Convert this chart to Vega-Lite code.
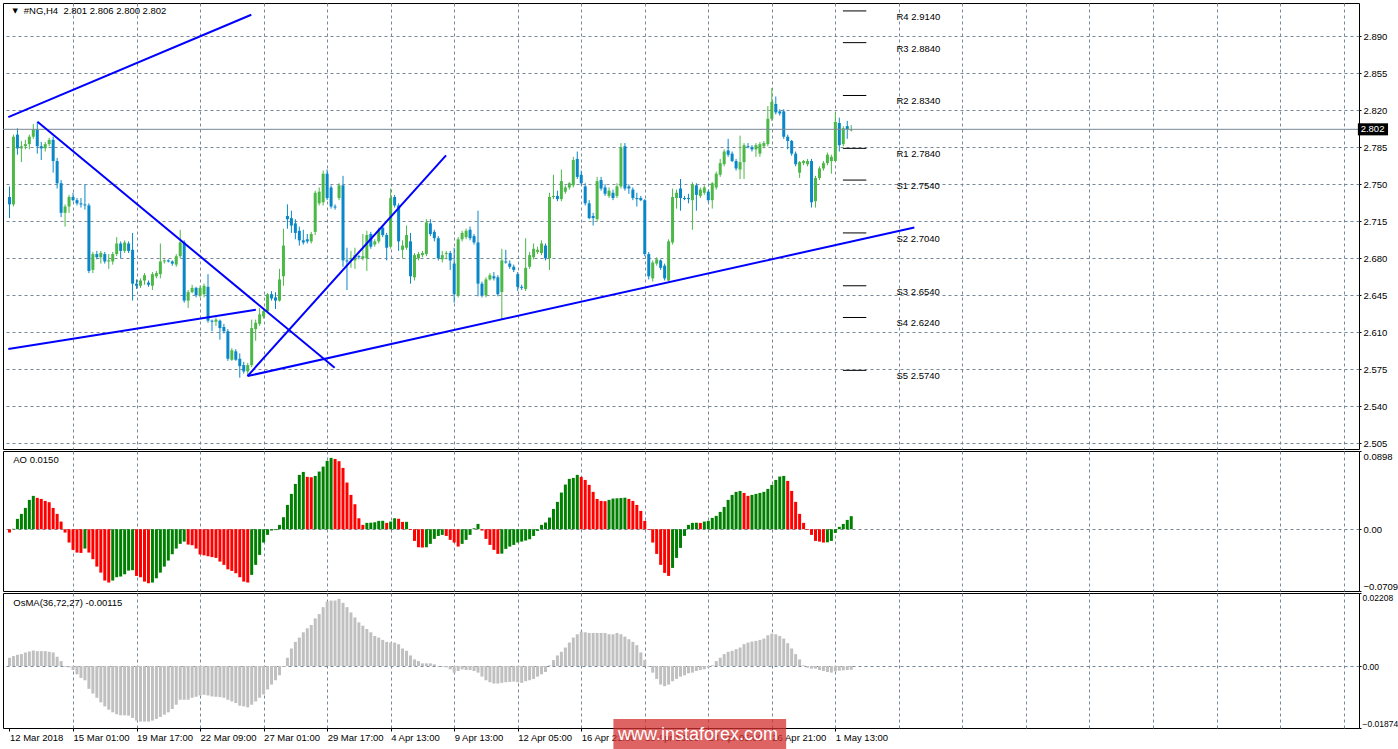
{
"$schema":"https://vega.github.io/schema/vega-lite/v6.json",
"background":"#ffffff",
"padding":{"left":2,"top":2,"right":0,"bottom":0},
"spacing":2,
"bounds":"flush",
"config":{"view":{"stroke":"#000000","strokeWidth":1},"font":"Liberation Sans","axis":{"labelFont":"Liberation Sans","labelFontSize":9.5,"labelColor":"#000000","gridColor":"#778899","gridDash":[3,3],"gridWidth":1,"domain":false}},
"datasets":{"bars":[
{"k":0,"o":2.738,"h":2.748,"l":2.718,"c":2.731,"ao":-0.0038,"os":0.0025},
{"k":1,"o":2.731,"h":2.797,"l":2.729,"c":2.795,"ao":0.0005,"os":0.0030},
{"k":2,"o":2.797,"h":2.803,"l":2.778,"c":2.784,"ao":0.0119,"os":0.0034},
{"k":3,"o":2.784,"h":2.791,"l":2.771,"c":2.786,"ao":0.0176,"os":0.0036},
{"k":4,"o":2.786,"h":2.792,"l":2.783,"c":2.788,"ao":0.0245,"os":0.0041},
{"k":5,"o":2.788,"h":2.797,"l":2.783,"c":2.795,"ao":0.0337,"os":0.0044},
{"k":6,"o":2.795,"h":2.807,"l":2.793,"c":2.802,"ao":0.0383,"os":0.0047},
{"k":7,"o":2.802,"h":2.809,"l":2.779,"c":2.786,"ao":0.0360,"os":0.0045},
{"k":8,"o":2.786,"h":2.790,"l":2.773,"c":2.784,"ao":0.0348,"os":0.0045},
{"k":9,"o":2.784,"h":2.790,"l":2.781,"c":2.788,"ao":0.0325,"os":0.0045},
{"k":10,"o":2.788,"h":2.794,"l":2.786,"c":2.792,"ao":0.0310,"os":0.0043},
{"k":11,"o":2.792,"h":2.795,"l":2.761,"c":2.772,"ao":0.0245,"os":0.0041},
{"k":12,"o":2.772,"h":2.775,"l":2.746,"c":2.751,"ao":0.0176,"os":0.0028},
{"k":13,"o":2.751,"h":2.754,"l":2.719,"c":2.723,"ao":0.0088,"os":0.0015},
{"k":14,"o":2.723,"h":2.731,"l":2.710,"c":2.729,"ao":-0.0038,"os":-0.0002},
{"k":15,"o":2.729,"h":2.740,"l":2.723,"c":2.738,"ao":-0.0153,"os":-0.0004},
{"k":16,"o":2.738,"h":2.742,"l":2.734,"c":2.735,"ao":-0.0237,"os":-0.0012},
{"k":17,"o":2.735,"h":2.737,"l":2.730,"c":2.732,"ao":-0.0268,"os":-0.0025},
{"k":18,"o":2.732,"h":2.737,"l":2.728,"c":2.731,"ao":-0.0272,"os":-0.0036},
{"k":19,"o":2.731,"h":2.750,"l":2.726,"c":2.730,"ao":-0.0222,"os":-0.0043},
{"k":20,"o":2.730,"h":2.732,"l":2.666,"c":2.668,"ao":-0.0268,"os":-0.0069},
{"k":21,"o":2.669,"h":2.686,"l":2.666,"c":2.684,"ao":-0.0344,"os":-0.0083},
{"k":22,"o":2.684,"h":2.687,"l":2.679,"c":2.681,"ao":-0.0429,"os":-0.0096},
{"k":23,"o":2.681,"h":2.687,"l":2.675,"c":2.685,"ao":-0.0498,"os":-0.0110},
{"k":24,"o":2.684,"h":2.686,"l":2.675,"c":2.677,"ao":-0.0589,"os":-0.0122},
{"k":25,"o":2.677,"h":2.684,"l":2.670,"c":2.678,"ao":-0.0612,"os":-0.0132},
{"k":26,"o":2.677,"h":2.686,"l":2.674,"c":2.684,"ao":-0.0589,"os":-0.0140},
{"k":27,"o":2.684,"h":2.700,"l":2.682,"c":2.694,"ao":-0.0551,"os":-0.0146},
{"k":28,"o":2.694,"h":2.696,"l":2.680,"c":2.687,"ao":-0.0543,"os":-0.0149},
{"k":29,"o":2.687,"h":2.697,"l":2.685,"c":2.695,"ao":-0.0517,"os":-0.0149},
{"k":30,"o":2.694,"h":2.696,"l":2.685,"c":2.687,"ao":-0.0475,"os":-0.0150},
{"k":31,"o":2.688,"h":2.704,"l":2.640,"c":2.656,"ao":-0.0470,"os":-0.0157},
{"k":32,"o":2.656,"h":2.660,"l":2.651,"c":2.654,"ao":-0.0536,"os":-0.0165},
{"k":33,"o":2.654,"h":2.661,"l":2.652,"c":2.659,"ao":-0.0551,"os":-0.0168},
{"k":34,"o":2.659,"h":2.666,"l":2.655,"c":2.664,"ao":-0.0601,"os":-0.0168},
{"k":35,"o":2.657,"h":2.659,"l":2.653,"c":2.655,"ao":-0.0620,"os":-0.0168},
{"k":36,"o":2.654,"h":2.667,"l":2.650,"c":2.665,"ao":-0.0612,"os":-0.0165},
{"k":37,"o":2.663,"h":2.668,"l":2.661,"c":2.666,"ao":-0.0563,"os":-0.0160},
{"k":38,"o":2.665,"h":2.694,"l":2.661,"c":2.677,"ao":-0.0498,"os":-0.0154},
{"k":39,"o":2.677,"h":2.679,"l":2.675,"c":2.678,"ao":-0.0429,"os":-0.0147},
{"k":40,"o":2.678,"h":2.679,"l":2.676,"c":2.677,"ao":-0.0360,"os":-0.0140},
{"k":41,"o":2.677,"h":2.678,"l":2.673,"c":2.675,"ao":-0.0287,"os":-0.0130},
{"k":42,"o":2.674,"h":2.684,"l":2.672,"c":2.682,"ao":-0.0222,"os":-0.0117},
{"k":43,"o":2.682,"h":2.707,"l":2.680,"c":2.695,"ao":-0.0168,"os":-0.0102},
{"k":44,"o":2.695,"h":2.697,"l":2.638,"c":2.640,"ao":-0.0142,"os":-0.0102},
{"k":45,"o":2.640,"h":2.650,"l":2.633,"c":2.648,"ao":-0.0176,"os":-0.0102},
{"k":46,"o":2.648,"h":2.655,"l":2.647,"c":2.652,"ao":-0.0184,"os":-0.0096},
{"k":47,"o":2.652,"h":2.653,"l":2.643,"c":2.645,"ao":-0.0222,"os":-0.0093},
{"k":48,"o":2.645,"h":2.654,"l":2.643,"c":2.652,"ao":-0.0290,"os":-0.0089},
{"k":49,"o":2.646,"h":2.656,"l":2.643,"c":2.654,"ao":-0.0300,"os":-0.0087},
{"k":50,"o":2.653,"h":2.665,"l":2.619,"c":2.621,"ao":-0.0310,"os":-0.0089},
{"k":51,"o":2.621,"h":2.622,"l":2.611,"c":2.620,"ao":-0.0320,"os":-0.0092},
{"k":52,"o":2.620,"h":2.624,"l":2.616,"c":2.622,"ao":-0.0329,"os":-0.0093},
{"k":53,"o":2.621,"h":2.622,"l":2.603,"c":2.614,"ao":-0.0371,"os":-0.0094},
{"k":54,"o":2.615,"h":2.618,"l":2.609,"c":2.611,"ao":-0.0409,"os":-0.0096},
{"k":55,"o":2.611,"h":2.613,"l":2.583,"c":2.585,"ao":-0.0460,"os":-0.0102},
{"k":56,"o":2.584,"h":2.595,"l":2.583,"c":2.593,"ao":-0.0478,"os":-0.0107},
{"k":57,"o":2.592,"h":2.594,"l":2.583,"c":2.584,"ao":-0.0505,"os":-0.0112},
{"k":58,"o":2.585,"h":2.590,"l":2.567,"c":2.578,"ao":-0.0551,"os":-0.0120},
{"k":59,"o":2.579,"h":2.582,"l":2.571,"c":2.573,"ao":-0.0601,"os":-0.0122},
{"k":60,"o":2.573,"h":2.581,"l":2.569,"c":2.579,"ao":-0.0612,"os":-0.0125},
{"k":61,"o":2.579,"h":2.622,"l":2.577,"c":2.614,"ao":-0.0524,"os":-0.0117},
{"k":62,"o":2.613,"h":2.622,"l":2.602,"c":2.619,"ao":-0.0409,"os":-0.0107},
{"k":63,"o":2.618,"h":2.633,"l":2.616,"c":2.627,"ao":-0.0295,"os":-0.0096},
{"k":64,"o":2.625,"h":2.632,"l":2.623,"c":2.630,"ao":-0.0153,"os":-0.0086},
{"k":65,"o":2.630,"h":2.647,"l":2.628,"c":2.646,"ao":-0.0065,"os":-0.0071},
{"k":66,"o":2.646,"h":2.649,"l":2.640,"c":2.642,"ao":-0.0015,"os":-0.0056},
{"k":67,"o":2.643,"h":2.648,"l":2.632,"c":2.640,"ao":-0.0010,"os":-0.0043},
{"k":68,"o":2.640,"h":2.670,"l":2.639,"c":2.660,"ao":0.0050,"os":-0.0028},
{"k":69,"o":2.663,"h":2.708,"l":2.654,"c":2.692,"ao":0.0138,"os":-0.0002},
{"k":70,"o":2.720,"h":2.731,"l":2.708,"c":2.717,"ao":0.0279,"os":0.0025},
{"k":71,"o":2.718,"h":2.725,"l":2.704,"c":2.711,"ao":0.0406,"os":0.0053},
{"k":72,"o":2.713,"h":2.717,"l":2.698,"c":2.704,"ao":0.0520,"os":0.0073},
{"k":73,"o":2.706,"h":2.710,"l":2.692,"c":2.697,"ao":0.0624,"os":0.0086},
{"k":74,"o":2.697,"h":2.707,"l":2.693,"c":2.695,"ao":0.0658,"os":0.0102},
{"k":75,"o":2.698,"h":2.703,"l":2.694,"c":2.696,"ao":0.0601,"os":0.0114},
{"k":76,"o":2.696,"h":2.705,"l":2.694,"c":2.703,"ao":0.0597,"os":0.0124},
{"k":77,"o":2.705,"h":2.744,"l":2.702,"c":2.742,"ao":0.0612,"os":0.0144},
{"k":78,"o":2.732,"h":2.747,"l":2.730,"c":2.743,"ao":0.0662,"os":0.0157},
{"k":79,"o":2.733,"h":2.763,"l":2.730,"c":2.760,"ao":0.0719,"os":0.0178},
{"k":80,"o":2.760,"h":2.764,"l":2.735,"c":2.737,"ao":0.0785,"os":0.0195},
{"k":81,"o":2.747,"h":2.749,"l":2.727,"c":2.729,"ao":0.0819,"os":0.0198},
{"k":82,"o":2.729,"h":2.731,"l":2.726,"c":2.728,"ao":0.0807,"os":0.0198},
{"k":83,"o":2.737,"h":2.751,"l":2.735,"c":2.749,"ao":0.0781,"os":0.0203},
{"k":84,"o":2.749,"h":2.758,"l":2.672,"c":2.678,"ao":0.0704,"os":0.0191},
{"k":85,"o":2.678,"h":2.690,"l":2.650,"c":2.677,"ao":0.0536,"os":0.0178},
{"k":86,"o":2.679,"h":2.687,"l":2.671,"c":2.680,"ao":0.0394,"os":0.0162},
{"k":87,"o":2.678,"h":2.690,"l":2.670,"c":2.683,"ao":0.0287,"os":0.0147},
{"k":88,"o":2.682,"h":2.683,"l":2.679,"c":2.681,"ao":0.0126,"os":0.0132},
{"k":89,"o":2.680,"h":2.703,"l":2.678,"c":2.682,"ao":0.0050,"os":0.0122},
{"k":90,"o":2.680,"h":2.706,"l":2.668,"c":2.702,"ao":0.0073,"os":0.0112},
{"k":91,"o":2.703,"h":2.705,"l":2.689,"c":2.691,"ao":0.0075,"os":0.0102},
{"k":92,"o":2.693,"h":2.698,"l":2.691,"c":2.696,"ao":0.0080,"os":0.0091},
{"k":93,"o":2.696,"h":2.709,"l":2.694,"c":2.707,"ao":0.0096,"os":0.0086},
{"k":94,"o":2.709,"h":2.711,"l":2.700,"c":2.702,"ao":0.0097,"os":0.0079},
{"k":95,"o":2.702,"h":2.704,"l":2.678,"c":2.690,"ao":0.0073,"os":0.0073},
{"k":96,"o":2.691,"h":2.746,"l":2.689,"c":2.737,"ao":0.0088,"os":0.0071},
{"k":97,"o":2.738,"h":2.740,"l":2.728,"c":2.730,"ao":0.0126,"os":0.0071},
{"k":98,"o":2.730,"h":2.732,"l":2.687,"c":2.696,"ao":0.0120,"os":0.0066},
{"k":99,"o":2.688,"h":2.697,"l":2.680,"c":2.692,"ao":0.0084,"os":0.0053},
{"k":100,"o":2.690,"h":2.711,"l":2.688,"c":2.702,"ao":0.0085,"os":0.0046},
{"k":101,"o":2.696,"h":2.704,"l":2.656,"c":2.663,"ao":-0.0008,"os":0.0032},
{"k":102,"o":2.662,"h":2.685,"l":2.659,"c":2.683,"ao":-0.0134,"os":0.0020},
{"k":103,"o":2.680,"h":2.686,"l":2.678,"c":2.684,"ao":-0.0207,"os":0.0015},
{"k":104,"o":2.683,"h":2.687,"l":2.681,"c":2.685,"ao":-0.0210,"os":0.0008},
{"k":105,"o":2.684,"h":2.717,"l":2.682,"c":2.714,"ao":-0.0207,"os":0.0008},
{"k":106,"o":2.713,"h":2.717,"l":2.701,"c":2.703,"ao":-0.0168,"os":0.0008},
{"k":107,"o":2.705,"h":2.707,"l":2.696,"c":2.699,"ao":-0.0111,"os":0.0005},
{"k":108,"o":2.699,"h":2.701,"l":2.678,"c":2.680,"ao":-0.0077,"os":-0.0001},
{"k":109,"o":2.679,"h":2.687,"l":2.676,"c":2.683,"ao":-0.0065,"os":-0.0002},
{"k":110,"o":2.684,"h":2.687,"l":2.679,"c":2.685,"ao":-0.0077,"os":-0.0004},
{"k":111,"o":2.685,"h":2.687,"l":2.669,"c":2.678,"ao":-0.0122,"os":-0.0010},
{"k":112,"o":2.675,"h":2.690,"l":2.638,"c":2.646,"ao":-0.0153,"os":-0.0020},
{"k":113,"o":2.645,"h":2.700,"l":2.643,"c":2.698,"ao":-0.0199,"os":-0.0015},
{"k":114,"o":2.698,"h":2.706,"l":2.696,"c":2.704,"ao":-0.0168,"os":-0.0010},
{"k":115,"o":2.700,"h":2.708,"l":2.698,"c":2.706,"ao":-0.0122,"os":-0.0012},
{"k":116,"o":2.707,"h":2.710,"l":2.697,"c":2.699,"ao":-0.0065,"os":-0.0012},
{"k":117,"o":2.701,"h":2.703,"l":2.693,"c":2.695,"ao":0.0011,"os":-0.0015},
{"k":118,"o":2.695,"h":2.725,"l":2.644,"c":2.656,"ao":0.0061,"os":-0.0020},
{"k":119,"o":2.656,"h":2.658,"l":2.643,"c":2.645,"ao":-0.0015,"os":-0.0032},
{"k":120,"o":2.645,"h":2.662,"l":2.643,"c":2.660,"ao":-0.0111,"os":-0.0043},
{"k":121,"o":2.660,"h":2.666,"l":2.659,"c":2.664,"ao":-0.0180,"os":-0.0049},
{"k":122,"o":2.663,"h":2.667,"l":2.659,"c":2.661,"ao":-0.0237,"os":-0.0053},
{"k":123,"o":2.662,"h":2.664,"l":2.644,"c":2.646,"ao":-0.0283,"os":-0.0053},
{"k":124,"o":2.648,"h":2.689,"l":2.622,"c":2.678,"ao":-0.0280,"os":-0.0051},
{"k":125,"o":2.677,"h":2.688,"l":2.675,"c":2.676,"ao":-0.0226,"os":-0.0049},
{"k":126,"o":2.675,"h":2.678,"l":2.670,"c":2.672,"ao":-0.0199,"os":-0.0048},
{"k":127,"o":2.672,"h":2.674,"l":2.667,"c":2.669,"ao":-0.0180,"os":-0.0047},
{"k":128,"o":2.665,"h":2.667,"l":2.649,"c":2.653,"ao":-0.0153,"os":-0.0049},
{"k":129,"o":2.653,"h":2.655,"l":2.650,"c":2.652,"ao":-0.0142,"os":-0.0051},
{"k":130,"o":2.651,"h":2.699,"l":2.649,"c":2.671,"ao":-0.0130,"os":-0.0046},
{"k":131,"o":2.672,"h":2.686,"l":2.670,"c":2.683,"ao":-0.0115,"os":-0.0043},
{"k":132,"o":2.681,"h":2.694,"l":2.679,"c":2.689,"ao":-0.0077,"os":-0.0039},
{"k":133,"o":2.686,"h":2.691,"l":2.684,"c":2.688,"ao":-0.0019,"os":-0.0032},
{"k":134,"o":2.685,"h":2.697,"l":2.683,"c":2.694,"ao":0.0050,"os":-0.0025},
{"k":135,"o":2.692,"h":2.694,"l":2.678,"c":2.680,"ao":0.0077,"os":-0.0018},
{"k":136,"o":2.680,"h":2.742,"l":2.669,"c":2.738,"ao":0.0134,"os":0.0002},
{"k":137,"o":2.738,"h":2.759,"l":2.736,"c":2.739,"ao":0.0233,"os":0.0018},
{"k":138,"o":2.739,"h":2.744,"l":2.734,"c":2.736,"ao":0.0314,"os":0.0032},
{"k":139,"o":2.736,"h":2.764,"l":2.734,"c":2.753,"ao":0.0421,"os":0.0043},
{"k":140,"o":2.743,"h":2.749,"l":2.741,"c":2.747,"ao":0.0513,"os":0.0056},
{"k":141,"o":2.747,"h":2.752,"l":2.745,"c":2.751,"ao":0.0578,"os":0.0071},
{"k":142,"o":2.749,"h":2.776,"l":2.747,"c":2.773,"ao":0.0589,"os":0.0086},
{"k":143,"o":2.774,"h":2.781,"l":2.755,"c":2.757,"ao":0.0624,"os":0.0096},
{"k":144,"o":2.759,"h":2.763,"l":2.749,"c":2.751,"ao":0.0601,"os":0.0104},
{"k":145,"o":2.748,"h":2.751,"l":2.730,"c":2.732,"ao":0.0566,"os":0.0102},
{"k":146,"o":2.732,"h":2.735,"l":2.717,"c":2.718,"ao":0.0509,"os":0.0100},
{"k":147,"o":2.720,"h":2.723,"l":2.711,"c":2.718,"ao":0.0429,"os":0.0100},
{"k":148,"o":2.717,"h":2.757,"l":2.715,"c":2.753,"ao":0.0348,"os":0.0100},
{"k":149,"o":2.754,"h":2.757,"l":2.744,"c":2.746,"ao":0.0325,"os":0.0100},
{"k":150,"o":2.747,"h":2.750,"l":2.739,"c":2.741,"ao":0.0322,"os":0.0100},
{"k":151,"o":2.739,"h":2.747,"l":2.737,"c":2.744,"ao":0.0337,"os":0.0096},
{"k":152,"o":2.742,"h":2.745,"l":2.735,"c":2.737,"ao":0.0352,"os":0.0096},
{"k":153,"o":2.739,"h":2.751,"l":2.737,"c":2.748,"ao":0.0355,"os":0.0100},
{"k":154,"o":2.748,"h":2.789,"l":2.746,"c":2.785,"ao":0.0358,"os":0.0096},
{"k":155,"o":2.786,"h":2.789,"l":2.744,"c":2.746,"ao":0.0362,"os":0.0089},
{"k":156,"o":2.748,"h":2.750,"l":2.741,"c":2.746,"ao":0.0348,"os":0.0081},
{"k":157,"o":2.745,"h":2.747,"l":2.735,"c":2.737,"ao":0.0325,"os":0.0073},
{"k":158,"o":2.737,"h":2.742,"l":2.729,"c":2.736,"ao":0.0279,"os":0.0063},
{"k":159,"o":2.737,"h":2.739,"l":2.734,"c":2.735,"ao":0.0210,"os":0.0041},
{"k":160,"o":2.735,"h":2.736,"l":2.682,"c":2.684,"ao":0.0096,"os":0.0018},
{"k":161,"o":2.684,"h":2.686,"l":2.660,"c":2.663,"ao":-0.0008,"os":-0.0002},
{"k":162,"o":2.661,"h":2.678,"l":2.658,"c":2.676,"ao":-0.0153,"os":-0.0020},
{"k":163,"o":2.675,"h":2.681,"l":2.673,"c":2.679,"ao":-0.0283,"os":-0.0039},
{"k":164,"o":2.678,"h":2.679,"l":2.669,"c":2.671,"ao":-0.0409,"os":-0.0056},
{"k":165,"o":2.673,"h":2.675,"l":2.659,"c":2.661,"ao":-0.0501,"os":-0.0061},
{"k":166,"o":2.659,"h":2.698,"l":2.658,"c":2.696,"ao":-0.0536,"os":-0.0056},
{"k":167,"o":2.695,"h":2.746,"l":2.693,"c":2.738,"ao":-0.0444,"os":-0.0046},
{"k":168,"o":2.737,"h":2.745,"l":2.727,"c":2.742,"ao":-0.0329,"os":-0.0039},
{"k":169,"o":2.746,"h":2.755,"l":2.725,"c":2.737,"ao":-0.0214,"os":-0.0032},
{"k":170,"o":2.737,"h":2.739,"l":2.735,"c":2.736,"ao":-0.0077,"os":-0.0028},
{"k":171,"o":2.737,"h":2.741,"l":2.732,"c":2.736,"ao":0.0050,"os":-0.0022},
{"k":172,"o":2.735,"h":2.752,"l":2.707,"c":2.750,"ao":0.0073,"os":-0.0020},
{"k":173,"o":2.749,"h":2.751,"l":2.725,"c":2.740,"ao":0.0075,"os":-0.0015},
{"k":174,"o":2.739,"h":2.747,"l":2.737,"c":2.745,"ao":0.0072,"os":-0.0012},
{"k":175,"o":2.742,"h":2.749,"l":2.740,"c":2.747,"ao":0.0088,"os":-0.0010},
{"k":176,"o":2.743,"h":2.745,"l":2.733,"c":2.735,"ao":0.0096,"os":-0.0005},
{"k":177,"o":2.735,"h":2.752,"l":2.727,"c":2.751,"ao":0.0130,"os":0.0002},
{"k":178,"o":2.747,"h":2.762,"l":2.745,"c":2.760,"ao":0.0153,"os":0.0015},
{"k":179,"o":2.759,"h":2.774,"l":2.757,"c":2.770,"ao":0.0199,"os":0.0025},
{"k":180,"o":2.769,"h":2.783,"l":2.767,"c":2.781,"ao":0.0256,"os":0.0036},
{"k":181,"o":2.782,"h":2.793,"l":2.776,"c":2.778,"ao":0.0337,"os":0.0043},
{"k":182,"o":2.779,"h":2.781,"l":2.771,"c":2.772,"ao":0.0394,"os":0.0046},
{"k":183,"o":2.772,"h":2.774,"l":2.763,"c":2.765,"ao":0.0429,"os":0.0051},
{"k":184,"o":2.764,"h":2.796,"l":2.755,"c":2.771,"ao":0.0440,"os":0.0056},
{"k":185,"o":2.771,"h":2.789,"l":2.755,"c":2.787,"ao":0.0417,"os":0.0066},
{"k":186,"o":2.786,"h":2.789,"l":2.784,"c":2.785,"ao":0.0383,"os":0.0071},
{"k":187,"o":2.785,"h":2.787,"l":2.781,"c":2.783,"ao":0.0394,"os":0.0074},
{"k":188,"o":2.783,"h":2.789,"l":2.776,"c":2.787,"ao":0.0406,"os":0.0076},
{"k":189,"o":2.779,"h":2.790,"l":2.776,"c":2.788,"ao":0.0417,"os":0.0079},
{"k":190,"o":2.786,"h":2.791,"l":2.784,"c":2.789,"ao":0.0429,"os":0.0083},
{"k":191,"o":2.788,"h":2.824,"l":2.786,"c":2.812,"ao":0.0463,"os":0.0093},
{"k":192,"o":2.812,"h":2.841,"l":2.810,"c":2.828,"ao":0.0509,"os":0.0098},
{"k":193,"o":2.826,"h":2.833,"l":2.816,"c":2.818,"ao":0.0566,"os":0.0096},
{"k":194,"o":2.819,"h":2.821,"l":2.815,"c":2.817,"ao":0.0605,"os":0.0091},
{"k":195,"o":2.819,"h":2.821,"l":2.793,"c":2.795,"ao":0.0612,"os":0.0083},
{"k":196,"o":2.795,"h":2.797,"l":2.783,"c":2.791,"ao":0.0555,"os":0.0069},
{"k":197,"o":2.791,"h":2.792,"l":2.777,"c":2.779,"ao":0.0440,"os":0.0053},
{"k":198,"o":2.779,"h":2.781,"l":2.767,"c":2.769,"ao":0.0314,"os":0.0036},
{"k":199,"o":2.761,"h":2.772,"l":2.756,"c":2.771,"ao":0.0176,"os":0.0020},
{"k":200,"o":2.770,"h":2.773,"l":2.768,"c":2.772,"ao":0.0073,"os":0.0002},
{"k":201,"o":2.769,"h":2.774,"l":2.767,"c":2.772,"ao":-0.0008,"os":-0.0005},
{"k":202,"o":2.772,"h":2.774,"l":2.728,"c":2.733,"ao":-0.0065,"os":-0.0008},
{"k":203,"o":2.734,"h":2.758,"l":2.728,"c":2.756,"ao":-0.0134,"os":-0.0008},
{"k":204,"o":2.756,"h":2.767,"l":2.754,"c":2.765,"ao":-0.0142,"os":-0.0012},
{"k":205,"o":2.765,"h":2.772,"l":2.763,"c":2.770,"ao":-0.0153,"os":-0.0015},
{"k":206,"o":2.770,"h":2.780,"l":2.768,"c":2.778,"ao":-0.0150,"os":-0.0018},
{"k":207,"o":2.772,"h":2.778,"l":2.760,"c":2.776,"ao":-0.0134,"os":-0.0020},
{"k":208,"o":2.772,"h":2.818,"l":2.771,"c":2.809,"ao":-0.0042,"os":-0.0016},
{"k":209,"o":2.808,"h":2.813,"l":2.781,"c":2.787,"ao":0.0027,"os":-0.0014},
{"k":210,"o":2.788,"h":2.805,"l":2.786,"c":2.803,"ao":0.0061,"os":-0.0013},
{"k":211,"o":2.805,"h":2.810,"l":2.793,"c":2.802,"ao":0.0107,"os":-0.0012},
{"k":212,"o":2.801,"h":2.806,"l":2.800,"c":2.802,"ao":0.0150,"os":-0.00115}
],
"pivots":[
{"lv":"R4 2.9140","p":2.914},{"lv":"R3 2.8840","p":2.884},{"lv":"R2 2.8340","p":2.834},{"lv":"R1 2.7840","p":2.784},{"lv":"S1 2.7540","p":2.754},{"lv":"S2 2.7040","p":2.704},{"lv":"S3 2.6540","p":2.654},{"lv":"S4 2.6240","p":2.624},{"lv":"S5 2.5740","p":2.574}
],
"trend":[
{"id":1,"k":-0.3,"p":2.8136},{"id":1,"k":60.9,"p":2.9104},
{"id":2,"k":7.05,"p":2.8092},{"id":2,"k":81.9,"p":2.5765},
{"id":3,"k":-0.3,"p":2.5942},{"id":3,"k":62.05,"p":2.6313},
{"id":4,"k":59.95,"p":2.5686},{"id":4,"k":109.95,"p":2.7774},
{"id":5,"k":59.95,"p":2.5686},{"id":5,"k":227.9,"p":2.7091}
]},
"vconcat":[
{
"width":1356,"height":446,
"layer":[
{"data":{"name":"bars"},"mark":{"type":"rule","strokeWidth":1},
 "encoding":{
  "x":{"field":"k","type":"quantitative","scale":{"domain":[-0.375,338.625],"nice":false,"zero":false},
       "axis":{"values":[0,8,16,24,32,40,48,56,64,72,80,88,96,104,112,120,128,136,144,152,160,168,176,184,192,200,208,216,224,232,240,248,256,264,272,280,288,296,304,312,320,328,336],"grid":true,"gridOpacity":{"condition":{"test":"datum.value === 0","value":0},"value":1},"labels":false,"ticks":false,"domain":false,"title":null}},
  "y":{"field":"l","type":"quantitative","scale":{"domain":[2.4996,2.9215],"nice":false,"zero":false},
       "axis":{"orient":"right","values":[2.505,2.54,2.575,2.61,2.645,2.68,2.715,2.75,2.785,2.82,2.855,2.89],"format":".3f","grid":true,"ticks":true,"tickSize":2,"tickColor":"#000000","labelPadding":2,"domain":false,"title":null}},
  "y2":{"field":"h"},
  "color":{"condition":{"test":"datum.c >= datum.o","value":"#4cb848"},"value":"#0a87c9"}}},
{"data":{"name":"bars"},"mark":{"type":"bar","size":3},
 "encoding":{"x":{"field":"k","type":"quantitative"},"y":{"field":"o","type":"quantitative"},"y2":{"field":"c"},
  "color":{"condition":{"test":"datum.c >= datum.o","value":"#4cb848"},"value":"#0a87c9"}}},
{"data":{"values":[{}]},"mark":{"type":"rule","color":"#778899","strokeWidth":1},"encoding":{"y":{"datum":2.802}}},
{"data":{"name":"pivots"},"mark":{"type":"rule","color":"#000000","strokeWidth":1},
 "encoding":{"x":{"datum":209.9},"x2":{"datum":215.8},"y":{"field":"p","type":"quantitative"}}},
{"data":{"name":"pivots"},"mark":{"type":"text","align":"left","baseline":"middle","dy":6,"fontSize":9.5,"color":"#000000"},
 "encoding":{"x":{"datum":223.4},"y":{"field":"p","type":"quantitative"},"text":{"field":"lv"}}},
{"data":{"name":"trend"},"mark":{"type":"line","color":"#0000ff","strokeWidth":2,"clip":true},
 "encoding":{"x":{"field":"k","type":"quantitative"},"y":{"field":"p","type":"quantitative"},"detail":{"field":"id"}}},
{"data":{"values":[{}]},"mark":{"type":"rect","color":"#000000"},
 "encoding":{"x":{"datum":339.6},"x2":{"datum":347.2},"y":{"datum":2.8077},"y2":{"datum":2.7963}}},
{"data":{"values":[{}]},"mark":{"type":"text","align":"left","baseline":"middle","color":"#ffffff","fontSize":9.5,"text":"2.802"},
 "encoding":{"x":{"datum":340.3},"y":{"datum":2.802}}},
{"data":{"values":[{}]},"mark":{"type":"text","align":"center","baseline":"middle","color":"#000000","fontSize":7,"font":"DejaVu Sans","text":"▼"},
 "encoding":{"x":{"datum":1.45},"y":{"datum":2.9136}}},
{"data":{"values":[{}]},"mark":{"type":"text","align":"left","baseline":"middle","color":"#000000","fontSize":9.5,"text":"#NG,H4\u00a0 2.801 2.806 2.800 2.802"},
 "encoding":{"x":{"datum":3.6},"y":{"datum":2.9139}}}
]},
{
"width":1356,"height":140,
"layer":[
{"data":{"name":"bars"},
 "transform":[{"window":[{"op":"lag","field":"ao","as":"aoPrev"}],"sort":[{"field":"k","order":"ascending"}]}],
 "mark":{"type":"bar","size":3},
 "encoding":{
  "x":{"field":"k","type":"quantitative","scale":{"domain":[-0.375,338.625],"nice":false,"zero":false},
       "axis":{"values":[0,8,16,24,32,40,48,56,64,72,80,88,96,104,112,120,128,136,144,152,160,168,176,184,192,200,208,216,224,232,240,248,256,264,272,280,288,296,304,312,320,328,336],"grid":true,"gridOpacity":{"condition":{"test":"datum.value === 0","value":0},"value":1},"labels":false,"ticks":false,"domain":false,"title":null}},
  "y":{"field":"ao","type":"quantitative","scale":{"domain":[-0.0709,0.0898],"nice":false,"zero":false},
       "axis":{"orient":"right","values":[-0.0709,0,0.0898],"labelExpr":"datum.value === 0 ? '0.00' : format(datum.value, '.4f')","labelFlush":true,"labelFlushOffset":0,"grid":true,"gridOpacity":{"condition":{"test":"datum.value === 0","value":1},"value":0},"ticks":true,"tickSize":2,"tickColor":"#000000","labelPadding":2,"domain":false,"title":null}},
  "y2":{"datum":0},
  "color":{"condition":{"test":"datum.aoPrev != null && datum.ao >= datum.aoPrev","value":"#008000"},"value":"#ff0000"}}},
{"data":{"values":[{}]},"mark":{"type":"text","align":"left","baseline":"middle","color":"#000000","fontSize":9.5,"text":"AO 0.0150"},
 "encoding":{"x":{"datum":0.95},"y":{"datum":0.0791}}}
]},
{
"width":1356,"height":135,
"layer":[
{"data":{"name":"bars"},
 "mark":{"type":"bar","size":3,"color":"#c0c0c0"},
 "encoding":{
  "x":{"field":"k","type":"quantitative","scale":{"domain":[-0.375,338.625],"nice":false,"zero":false},
       "axis":{"orient":"bottom","values":[0,8,16,24,32,40,48,56,64,72,80,88,96,104,112,120,128,136,144,152,160,168,176,184,192,200,208,216,224,232,240,248,256,264,272,280,288,296,304,312,320,328,336],"grid":true,"gridOpacity":{"condition":{"test":"datum.value === 0","value":0},"value":1},
               "labelExpr":"(datum.value % 16 === 0 && datum.value <= 208) ? ['12 Mar 2018','15 Mar 01:00','19 Mar 17:00','22 Mar 09:00','27 Mar 01:00','29 Mar 17:00','4 Apr 13:00','9 Apr 13:00','12 Apr 05:00','16 Apr 21:00','19 Apr 13:00','24 Apr 05:00','26 Apr 21:00','1 May 13:00'][datum.value / 16] : ''",
               "labelAlign":"left","labelFlush":false,"labelOverlap":false,"labelBound":false,"labelPadding":1,
               "ticks":true,"tickSize":3,"tickColor":"#000000","tickOpacity":{"condition":{"test":"datum.value % 16 === 0 && datum.value <= 208","value":1},"value":0},
               "domain":false,"title":null}},
  "y":{"field":"os","type":"quantitative","scale":{"domain":[-0.01874,0.02208],"nice":false,"zero":false},
       "axis":{"orient":"right","values":[-0.01874,0,0.02208],"labelExpr":"datum.value === 0 ? '0.00' : format(datum.value, '.5f')","labelFlush":true,"labelFlushOffset":0,"labelFontSize":8.5,"grid":true,"gridOpacity":{"condition":{"test":"datum.value === 0","value":1},"value":0},"ticks":true,"tickSize":2,"tickColor":"#000000","labelPadding":1,"domain":false,"title":null}},
  "y2":{"datum":0}}},
{"data":{"values":[{}]},"mark":{"type":"text","align":"left","baseline":"middle","color":"#000000","fontSize":9.5,"text":"OsMA(36,72,27) -0.00115"},
 "encoding":{"x":{"datum":0.95},"y":{"datum":0.01915}}},
{"data":{"values":[{}]},"mark":{"type":"rect","color":"#d32f2f","opacity":0.75},
 "encoding":{"x":{"datum":152.1},"x2":{"datum":195.6},"y":{"datum":-0.01602},"y2":{"datum":-0.0255}}},
{"data":{"values":[{}]},"mark":{"type":"text","align":"center","baseline":"middle","color":"#ffffff","fontSize":18,"text":"www.instaforex.com"},
 "encoding":{"x":{"datum":173.4},"y":{"datum":-0.02086}}}
]}
]
}
